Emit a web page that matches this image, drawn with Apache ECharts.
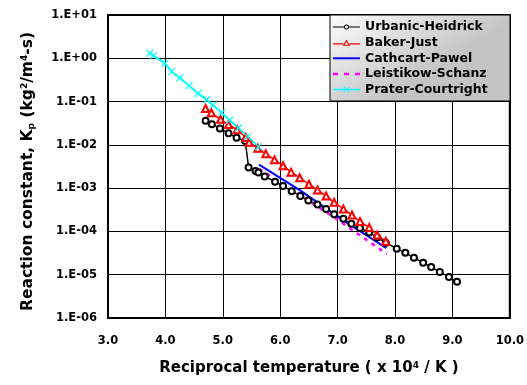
<!DOCTYPE html>
<html>
<head>
<meta charset="utf-8">
<script src="https://cdn.jsdelivr.net/npm/echarts@6/dist/echarts.min.js"></script>
<style>
  html, body { margin: 0; padding: 0; background: #fff; }
  #chart { width: 527px; height: 385px; }
</style>
</head>
<body>
<div id="chart"></div>
<script>
// ============================================================================
// Data
// ============================================================================

const urbanicX = [4.70, 4.81, 4.95, 5.10, 5.24, 5.39, 5.45, 5.57, 5.62, 5.73, 5.91, 6.05, 6.20, 6.35, 6.49,
    6.65, 6.80, 6.94, 7.10, 7.24, 7.39, 7.55, 7.69, 7.84, 8.03, 8.18, 8.33, 8.49, 8.63, 8.78, 8.94, 9.08]
const urbanicK = [3.6e-2, 3.0e-2, 2.4e-2, 1.86e-2, 1.45e-2, 1.23e-2, 3.0e-3, 2.5e-3, 2.3e-3, 1.86e-3, 1.41e-3,
    1.12e-3, 8.5e-4, 6.6e-4, 5.2e-4, 4.2e-4, 3.3e-4, 2.5e-4, 1.95e-4, 1.5e-4, 1.2e-4, 9.5e-5, 7.2e-5,
    5.5e-5, 4.0e-5, 3.2e-5, 2.45e-5, 1.9e-5, 1.5e-5, 1.15e-5, 8.9e-6, 6.9e-6]

const bakerX = [4.70, 4.80, 4.96, 5.10, 5.25, 5.40, 5.46, 5.61, 5.75, 5.90, 6.05, 6.19, 6.34, 6.50, 6.65,
    6.80, 6.94, 7.10, 7.25, 7.39, 7.55, 7.69, 7.84]
const bakerK = [6.9e-2, 5.5e-2, 3.9e-2, 2.95e-2, 2.24e-2, 1.48e-2, 1.15e-2, 8.3e-3, 6.2e-3, 4.5e-3, 3.3e-3,
    2.34e-3, 1.74e-3, 1.23e-3, 9.1e-4, 6.6e-4, 4.7e-4, 3.3e-4, 2.4e-4, 1.7e-4, 1.23e-4, 8.3e-5, 5.9e-5]

const cathcartX = [5.63, 6.34, 7.10, 7.85]
const cathcartK = [3.5e-3, 9.0e-4, 1.8e-4, 4.1e-5]

const leistikowX = [5.63, 6.92, 7.86]
const leistikowK = [2.8e-3, 2.2e-4, 3.0e-5]

const praterX = [3.73, 3.79, 3.99, 4.11, 4.25, 4.41, 4.57, 4.72, 4.83, 4.98, 5.12, 5.27, 5.43, 5.62]
const praterK = [1.32, 1.15, 0.76, 0.49, 0.35, 0.234, 0.155, 0.11, 0.083, 0.055, 0.037, 0.0245, 0.0155, 0.0091]

const seriesNames = ['Urbanic-Heidrick', 'Baker-Just', 'Cathcart-Pawel', 'Leistikow-Schanz', 'Prater-Courtright']

const xMin = 3, xMax = 10, xStep = 1
const yMin = 1e-6, yMax = 10

// ============================================================================
// Helpers
// ============================================================================

const FONT = 'DejaVu Sans, sans-serif'

function pairs(xs, ys) {
    return xs.map((x, i) => [x, ys[i]])
}

function sciLabel(v) {
    const e = Math.round(Math.log10(v))
    const a = Math.abs(e)
    return '1.E' + (e < 0 ? '-' : '+') + (a < 10 ? '0' + a : a)
}

const crossSymbol = 'path://M0,0L10,10M10,0L0,10'

// legend icons, 27 px wide, filled shapes only
const legendIcons = [
    // line - o - line
    'path://M0,3L11,3L11,4L0,4Z M16,3L27,3L27,4L16,4Z ' +
        'M16,3.5A2.5,2.5 0 1 0 11,3.5A2.5,2.5 0 1 0 16,3.5Z ' +
        'M15.1,3.5A1.6,1.6 0 1 1 11.9,3.5A1.6,1.6 0 1 1 15.1,3.5Z',
    // line - triangle - line
    'path://M0,4.2L10.4,4.2L10.4,5.4L0,5.4Z M16.6,4.2L27,4.2L27,5.4L16.6,5.4Z ' +
        'M13.5,0.5L17.2,6.8L9.8,6.8Z M13.5,2.6L11.6,5.8L15.4,5.8Z',
    // plain line
    'path://M0,0L27,0L27,2L0,2Z',
    // dashed line
    'path://M0,0L5,0L5,2.5L0,2.5Z M11,0L16,0L16,2.5L11,2.5Z M22,0L27,0L27,2.5L22,2.5Z',
    // line with x
    'path://M0,2.75L27,2.75L27,4.25L0,4.25Z M11,0.4L16.6,6L16,6.6L10.4,1Z M16,0.4L16.6,1L11,6.6L10.4,6Z'
]

// ============================================================================
// Chart
// ============================================================================

function renderChart() {
    const chart = echarts.init(document.getElementById('chart'))
    const titleStyle = {fontFamily: FONT, fontWeight: 'bold', color: '#000'}
    const supStyle = {fontFamily: FONT, fontSize: 9, fontWeight: 'bold', verticalAlign: 'top', padding: [0, 0, 6, 0]}
    const subStyle = {fontFamily: FONT, fontSize: 9, fontWeight: 'bold', verticalAlign: 'bottom', padding: [6, 0, 0, 0]}
    const tickStyle = {fontFamily: FONT, fontSize: 11.5, fontWeight: 'bold', color: '#000'}

    const option = {
        animation: false,
        textStyle: {fontFamily: FONT},
        grid: {
            left: 108, right: 17, top: 15, bottom: 67,
            show: true, borderColor: '#000', borderWidth: 2, backgroundColor: '#fff'
        },
        graphic: [{
            type: 'rect',
            z: 50,
            shape: {x: 330, y: 15, width: 180, height: 86},
            style: {
                fill: new echarts.graphic.LinearGradient(0, 0, 0.3, 1, [
                    {offset: 0, color: '#fdfdfd'},
                    {offset: 1, color: '#c4c4c4'}
                ]),
                stroke: '#000',
                lineWidth: 1
            }
        }],
        legend: {
            data: seriesNames.map((name, i) => ({name: name, icon: legendIcons[i]})),
            orient: 'vertical',
            left: 330, top: 15,
            padding: [5, 4, 2, 3],
            itemWidth: 27, itemHeight: 7,
            itemGap: 1.65,
            z: 60,
            itemStyle: {borderWidth: 0},
            textStyle: {fontFamily: FONT, fontSize: 12.5, fontWeight: 'bold', color: '#000', lineHeight: 14}
        },
        xAxis: {
            type: 'value',
            min: xMin, max: xMax, interval: xStep,
            name: 'Reciprocal temperature ( x 10{sup|4} / K )',
            nameLocation: 'middle',
            nameGap: 43,
            nameTextStyle: {...titleStyle, fontSize: 15, rich: {sup: supStyle}},
            axisLine: {show: true, onZero: false, lineStyle: {color: '#000', width: 2}},
            axisTick: {show: false},
            axisLabel: {...tickStyle, margin: 17, formatter: v => v.toFixed(1)},
            splitLine: {show: true, lineStyle: {color: '#000', width: 1}}
        },
        yAxis: {
            type: 'log',
            logBase: 10,
            min: yMin, max: yMax,
            name: 'Reaction constant, K{sub|p} (kg{sup|2}/m{sup|4}-s)',
            nameLocation: 'middle',
            nameGap: 72,
            nameTextStyle: {...titleStyle, fontSize: 15.5, padding: [0, 10, 0, 0], rich: {sup: supStyle, sub: subStyle}},
            axisLine: {show: true, lineStyle: {color: '#000', width: 2}},
            axisTick: {show: false},
            axisLabel: {...tickStyle, margin: 11, formatter: sciLabel},
            splitLine: {show: true, lineStyle: {color: '#000', width: 1}},
            minorSplitLine: {show: false}
        },
        series: [
            {
                name: seriesNames[0],
                type: 'line',
                data: pairs(urbanicX, urbanicK),
                symbol: 'emptyCircle',
                symbolSize: 6,
                itemStyle: {color: '#000', borderWidth: 1},
                lineStyle: {color: '#000', width: 1.5}
            },
            {
                name: seriesNames[1],
                type: 'line',
                data: pairs(bakerX, bakerK),
                symbol: 'emptyTriangle',
                symbolSize: 7,
                itemStyle: {color: '#ff0000', borderWidth: 1},
                lineStyle: {color: '#ff0000', width: 1.5}
            },
            {
                name: seriesNames[2],
                type: 'line',
                data: pairs(cathcartX, cathcartK),
                symbol: 'none',
                itemStyle: {color: '#0000ff'},
                lineStyle: {color: '#0000ff', width: 2}
            },
            {
                name: seriesNames[3],
                type: 'line',
                data: pairs(leistikowX, leistikowK),
                symbol: 'none',
                itemStyle: {color: '#ff00ff'},
                lineStyle: {color: '#ff00ff', width: 2.5, type: [4, 5]}
            },
            {
                name: seriesNames[4],
                type: 'line',
                data: pairs(praterX, praterK),
                symbol: crossSymbol,
                symbolSize: 7,
                itemStyle: {color: '#00ffff', borderColor: '#00ffff', borderWidth: 1.2},
                lineStyle: {color: '#00ffff', width: 2}
            }
        ]
    }
    chart.setOption(option)
}

renderChart()
</script>
</body>
</html>
